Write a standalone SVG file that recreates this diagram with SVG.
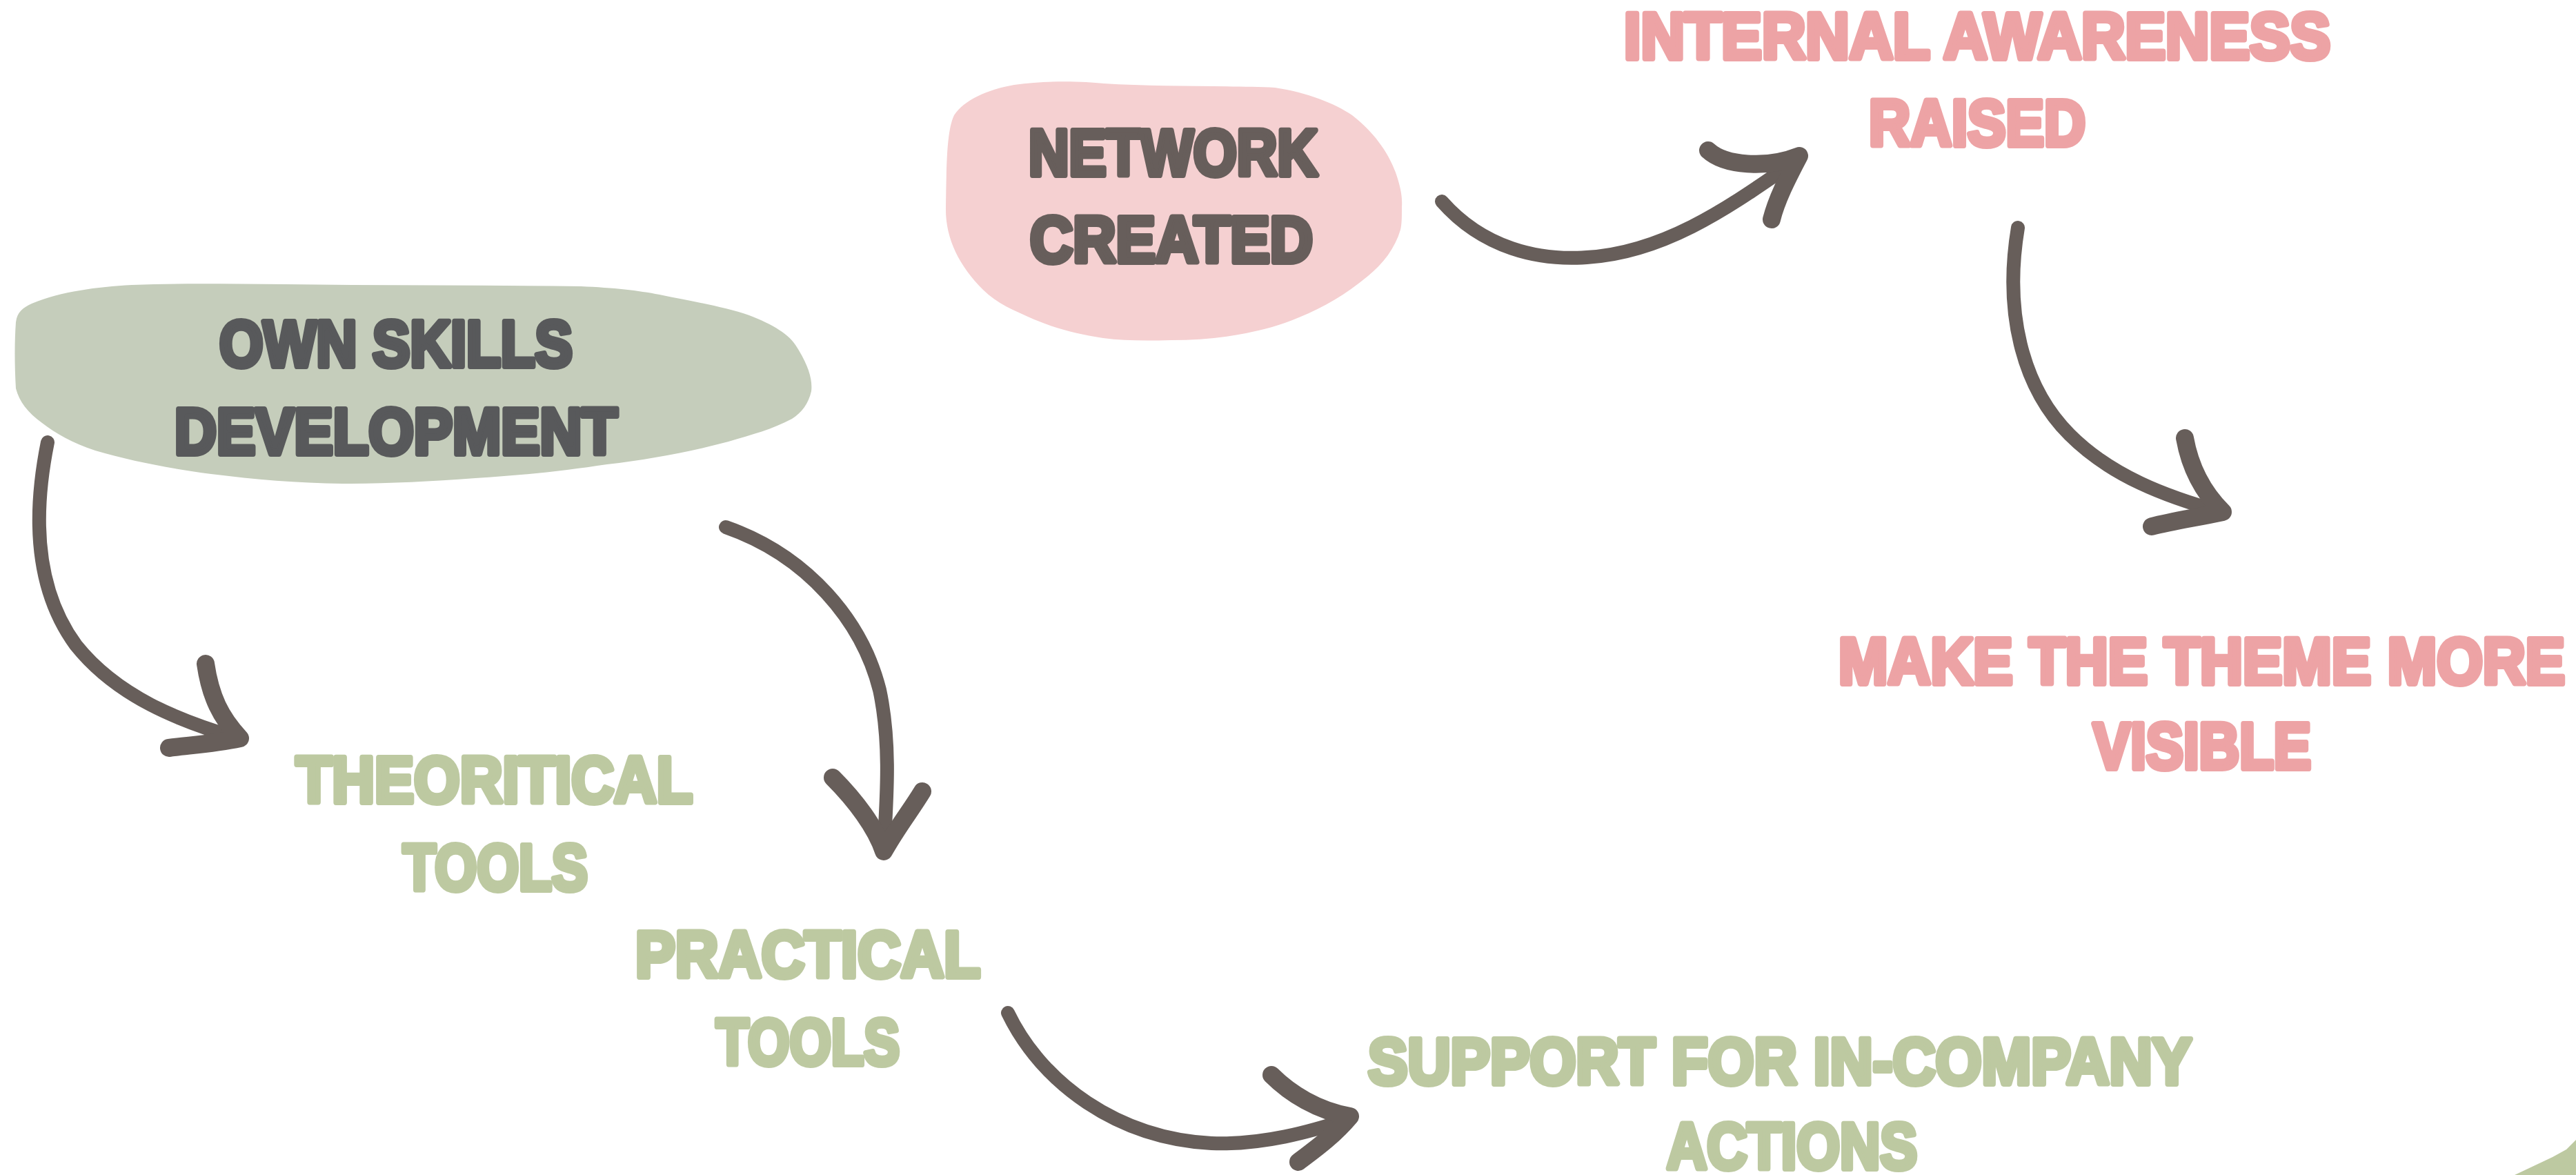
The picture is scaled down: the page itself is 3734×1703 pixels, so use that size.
<svg xmlns="http://www.w3.org/2000/svg" width="3734" height="1703" viewBox="0 0 3734 1703">
<style>
.t{font-family:"Liberation Sans",Arial,sans-serif;font-weight:bold;font-size:95px;stroke-width:8;stroke-linejoin:round}
.dk{fill:#58595B;stroke:#58595B}
.br{fill:#675E5B;stroke:#675E5B}
.pk{fill:#EDA3A5;stroke:#EDA3A5}
.gr{fill:#BDC9A1;stroke:#BDC9A1}
.shaft{fill:none;stroke:#675E5A;stroke-width:20;stroke-linecap:round;stroke-linejoin:round}
.head{fill:none;stroke:#675E5A;stroke-width:26;stroke-linecap:round;stroke-linejoin:round}
</style>
<rect width="3734" height="1703" fill="#FFFFFF"/>
<g id="own-skills">
<path fill="#C5CDBB" d="M 23,467 C 25,452 33,446 46,440 C 90,422 140,416 191,413 C 270,410 340,412 413,412 C 560,414 700,413 842,415 C 890,417 925,421 956,427 C 1010,438 1050,445 1086,457 C 1120,470 1145,485 1155,503 C 1172,530 1178,550 1176,567 C 1172,585 1162,598 1148,607 C 1120,622 1090,630 1056,640 C 1000,655 940,666 880,673 C 820,682 760,689 689,693 C 620,698 560,701 497,701 C 430,700 370,695 306,687 C 240,678 190,668 138,653 C 105,642 80,628 61,613 C 40,598 28,582 23,563 C 21,530 21,495 23,467 Z"/>
<text class="t dk" x="318" y="531" textLength="512" lengthAdjust="spacingAndGlyphs">OWN SKILLS</text>
<text class="t dk" x="253" y="658" textLength="642" lengthAdjust="spacingAndGlyphs">DEVELOPMENT</text>
</g>
<g id="network-created">
<path fill="#F5D0D1" d="M 1383,167 C 1398,145 1430,130 1470,123 C 1520,116 1570,118 1600,121 C 1680,126 1780,124 1848,127 C 1895,134 1935,150 1960,167 C 1990,190 2012,220 2023,250 C 2030,270 2033,285 2032,300 C 2032,315 2032,325 2030,333 C 2022,360 2005,382 1983,400 C 1950,427 1920,445 1883,460 C 1855,472 1830,478 1806,483 C 1770,490 1735,493 1698,493 C 1660,494 1630,494 1599,490 C 1560,484 1530,476 1499,463 C 1470,450 1445,440 1425,420 C 1390,385 1370,345 1371,300 C 1372,240 1372,190 1383,167 Z"/>
<text class="t br" x="1491" y="254" textLength="419" lengthAdjust="spacingAndGlyphs">NETWORK</text>
<text class="t br" x="1493" y="380" textLength="410" lengthAdjust="spacingAndGlyphs">CREATED</text>
</g>
<g id="internal-awareness">
<text class="t pk" x="2354" y="85" textLength="1024" lengthAdjust="spacingAndGlyphs">INTERNAL AWARENESS</text>
<text class="t pk" x="2709" y="211" textLength="314" lengthAdjust="spacingAndGlyphs">RAISED</text>
</g>
<g id="make-visible">
<text class="t pk" x="2665" y="991" textLength="1053" lengthAdjust="spacingAndGlyphs">MAKE THE THEME MORE</text>
<text class="t pk" x="3034" y="1114" textLength="316" lengthAdjust="spacingAndGlyphs">VISIBLE</text>
</g>
<g id="theoretical-tools">
<text class="t gr" x="429" y="1163" textLength="575" lengthAdjust="spacingAndGlyphs">THEORITICAL</text>
<text class="t gr" x="584" y="1290" textLength="268" lengthAdjust="spacingAndGlyphs">TOOLS</text>
</g>
<g id="practical-tools">
<text class="t gr" x="921" y="1416" textLength="500" lengthAdjust="spacingAndGlyphs">PRACTICAL</text>
<text class="t gr" x="1038" y="1543" textLength="266" lengthAdjust="spacingAndGlyphs">TOOLS</text>
</g>
<g id="support-actions">
<text class="t gr" x="1983" y="1571" textLength="1194" lengthAdjust="spacingAndGlyphs">SUPPORT FOR IN-COMPANY</text>
<text class="t gr" x="2416" y="1694" textLength="363" lengthAdjust="spacingAndGlyphs">ACTIONS</text>
</g>
<g id="corner-shape">
<path fill="#BDC9A1" d="M 3645,1703 L 3700,1677 L 3720,1666 L 3734,1652 L 3734,1703 Z"/>
</g>
<g id="connectors">
<path class="shaft" d="M 69,641 C 45,760 55,860 110,935 C 170,1010 260,1045 345,1070"/>
<path class="head" d="M 298,962 C 305,1010 320,1040 348,1070 C 310,1078 275,1080 245,1084"/>
<path class="shaft" d="M 1052,764 C 1170,805 1250,900 1275,1000 C 1292,1080 1285,1160 1281,1232"/>
<path class="head" d="M 1207,1127 C 1240,1160 1270,1200 1281,1234 C 1300,1200 1320,1175 1337,1147"/>
<path class="shaft" d="M 2090,292 C 2150,360 2230,378 2300,373 C 2420,366 2520,290 2605,232"/>
<path class="head" d="M 2476,218 C 2500,240 2560,245 2608,226 C 2590,260 2575,290 2568,318"/>
<path class="shaft" d="M 2925,330 C 2905,450 2930,560 3000,630 C 3060,690 3140,720 3220,742"/>
<path class="head" d="M 3167,635 C 3175,680 3195,715 3222,742 C 3185,750 3150,755 3119,763"/>
<path class="shaft" d="M 1461,1468 C 1510,1570 1620,1650 1756,1657 C 1830,1660 1900,1640 1955,1622"/>
<path class="head" d="M 1843,1558 C 1870,1585 1910,1610 1957,1618 C 1930,1650 1900,1670 1882,1684"/>
</g>
</svg>
